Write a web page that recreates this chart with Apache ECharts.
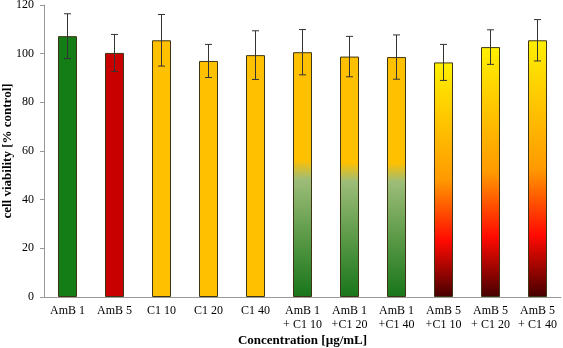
<!DOCTYPE html>
<html>
<head>
<meta charset="utf-8">
<script src="https://cdn.jsdelivr.net/npm/echarts@6/dist/echarts.min.js"></script>
<style>
  html, body { margin: 0; padding: 0; background: #fff; }
  #chart { width: 563px; height: 348px; }
</style>
</head>
<body>
<div id="chart"></div>
<script>
var categories = ['AmB 1', 'AmB 5', 'C1 10', 'C1 20', 'C1 40',
  'AmB 1\n+ C1 10', 'AmB 1\n+C1 20', 'AmB 1\n+C1 40',
  'AmB 5\n+C1 10', 'AmB 5\n+ C1 20', 'AmB 5\n+ C1 40']
var viability = [107.2, 100.3, 105.5, 97, 99.4, 100.6, 98.8, 98.6, 96.4, 102.7, 105.5]
var errors = [9.2, 7.6, 10.6, 6.8, 10, 9.3, 8.3, 9.1, 7.4, 7.1, 8.5]
var yTicks = [0, 20, 40, 60, 80, 100, 120]

// fills per bar (plain colours or vertical gradients)
var green = '#157d15'
var red = '#c80000'
var amber = '#ffc000'
var greenMix = {
  type: 'linear', x: 0, y: 0, x2: 0, y2: 1,
  colorStops: [
    { offset: 0, color: '#ffc000' },
    { offset: 0.44, color: '#ffc000' },
    { offset: 0.52, color: '#9dbd78' },
    { offset: 0.75, color: '#5c9a48' },
    { offset: 1, color: '#18761a' }
  ]
}
var redMix = {
  type: 'linear', x: 0, y: 0, x2: 0, y2: 1,
  colorStops: [
    { offset: 0, color: '#fff000' },
    { offset: 0.5, color: '#ff9a00' },
    { offset: 0.76, color: '#ff0a00' },
    { offset: 1, color: '#450000' }
  ]
}
var fills = [green, red, amber, amber, amber, greenMix, greenMix, greenMix, redMix, redMix, redMix]

var chart = echarts.init(document.getElementById('chart'))

var barData = viability.map(function(v, i) {
  return { value: v, itemStyle: { color: fills[i] } }
})
var errData = viability.map(function(v, i) {
  return [i, v - errors[i], v + errors[i]]
})

chart.setOption({
  animation: false,
  textStyle: { fontFamily: 'Liberation Serif' },
  grid: { left: 44, right: 2, top: 5, bottom: 51, outerBoundsMode: 'none', containLabel: false },
  xAxis: {
    type: 'category',
    data: categories,
    name: 'Concentration [µg/mL]',
    nameLocation: 'middle',
    nameGap: 37,
    nameMoveOverlap: false,
    nameTextStyle: { fontSize: 13, fontWeight: 'bold', color: '#000', fontFamily: 'Liberation Serif' },
    axisLine: { lineStyle: { color: '#999' } },
    axisTick: { show: false },
    axisLabel: { interval: 0, fontSize: 12, color: '#000', lineHeight: 14, margin: 7, fontFamily: 'Liberation Serif' }
  },
  yAxis: {
    type: 'value',
    min: yTicks[0],
    max: yTicks[yTicks.length - 1],
    interval: 20,
    name: 'cell viability [% control]',
    nameLocation: 'middle',
    nameGap: 30,
    nameMoveOverlap: false,
    nameTextStyle: { fontSize: 13, fontWeight: 'bold', color: '#000', fontFamily: 'Liberation Serif' },
    axisLine: { show: true, lineStyle: { color: '#999' } },
    axisTick: { show: true, length: 4, lineStyle: { color: '#999' } },
    splitLine: { show: false },
    axisLabel: { fontSize: 12, color: '#000', margin: 10, fontFamily: 'Liberation Serif' }
  },
  series: [
    {
      type: 'bar',
      data: barData,
      barWidth: 19,
      itemStyle: { borderColor: '#3d3515', borderWidth: 1 }
    },
    {
      type: 'custom',
      data: errData,
      z: 10,
      renderItem: function(params, api) {
        var x = api.value(0)
        var lo = api.coord([x, api.value(1)])
        var hi = api.coord([x, api.value(2)])
        var w = 3.5
        var s = { stroke: '#333', lineWidth: 1 }
        return {
          type: 'group',
          children: [
            { type: 'line', shape: { x1: hi[0], y1: hi[1], x2: lo[0], y2: lo[1] }, style: s },
            { type: 'line', shape: { x1: hi[0] - w, y1: hi[1], x2: hi[0] + w, y2: hi[1] }, style: s },
            { type: 'line', shape: { x1: lo[0] - w, y1: lo[1], x2: lo[0] + w, y2: lo[1] }, style: s }
          ]
        }
      }
    }
  ]
})
</script>
</body>
</html>
